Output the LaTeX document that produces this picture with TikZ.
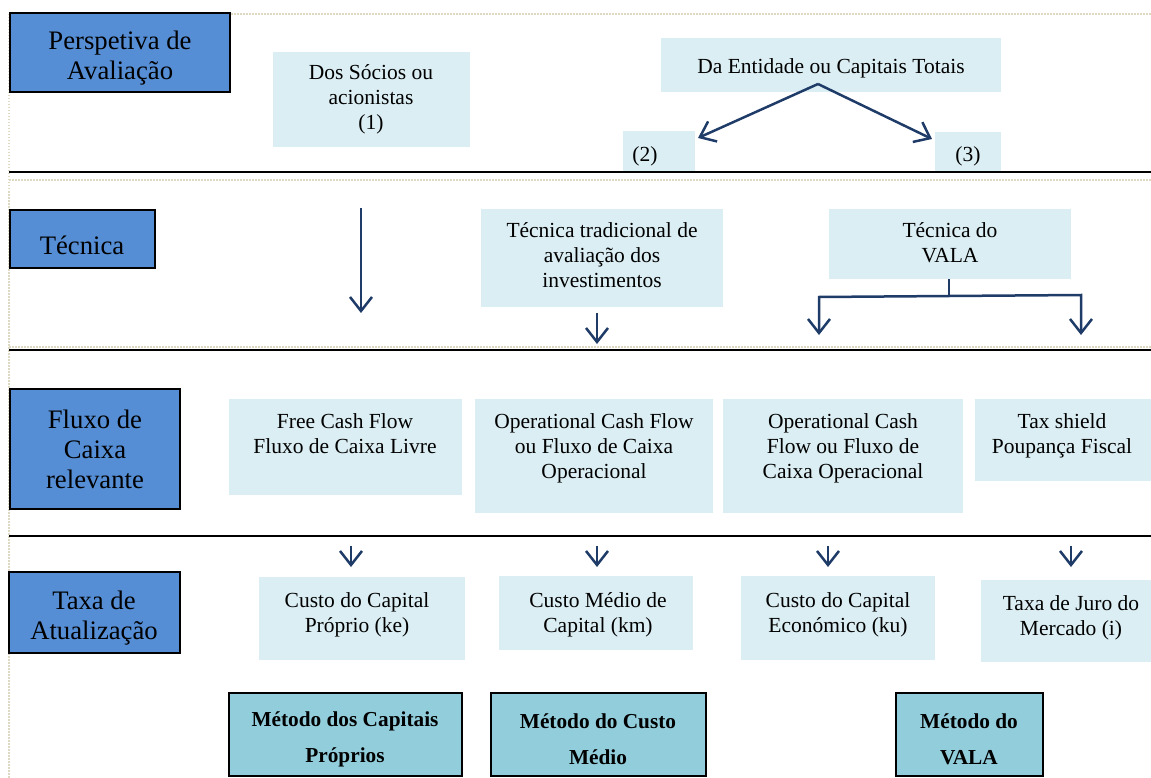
\documentclass[tikz,border=0pt]{standalone}
\usepackage{fontspec}
\setmainfont{Liberation Serif}
\usetikzlibrary{arrows.meta}
\definecolor{hblue}{RGB}{85,142,213}
\definecolor{lblue}{RGB}{219,238,243}
\definecolor{mblue}{RGB}{146,205,220}
\definecolor{navy}{RGB}{31,59,104}
\definecolor{tanline}{RGB}{221,217,195}
\begin{document}
\begin{tikzpicture}[x=1pt,y=-1pt,
  head/.style={draw=black, line width=1.8pt, fill=hblue, inner sep=0pt, outer sep=0pt, anchor=north west},
  htxt/.style={align=center, inner sep=0pt, font=\fontsize{26.7}{30}\selectfont},
  lbox/.style={fill=lblue, inner sep=0pt, outer sep=0pt, anchor=north west},
  txt/.style={anchor=north, align=center, inner sep=0pt, font=\fontsize{21.5}{25}\selectfont},
  mbox/.style={draw=black, line width=1.8pt, fill=mblue, inner sep=0pt, outer sep=0pt, anchor=north west},
  mtxt/.style={align=center, inner sep=0pt, font=\fontsize{21.3}{36}\selectfont\bfseries},
  arr/.style={draw=navy, line width=2.5pt, -{Straight Barb[length=14pt,width=22pt]}},
  stub/.style={draw=navy, line width=2.5pt},
  sepline/.style={draw=black, line width=2pt},
  dots/.style={draw=tanline, line width=1.5pt, dash pattern=on 1.5pt off 1.5pt}]
\useasboundingbox (0,0) rectangle (1151,778);
% dotted frame lines
\coordinate (d1a) at (9,14);   \coordinate (d1b) at (1151,14);
\coordinate (d2a) at (9,180);  \coordinate (d2b) at (1151,180);
\coordinate (d3a) at (9,347);  \coordinate (d3b) at (1151,347);
\coordinate (d4a) at (9,778);
\draw[dots] (d1a) -- (d1b);
\draw[dots] (d2a) -- (d2b);
\draw[dots] (d3a) -- (d3b);
\draw[dots] (d1a) -- (d4a);
% black separator lines
\coordinate (s1a) at (9,172);  \coordinate (s1b) at (1151,172);
\coordinate (s2a) at (9,350);  \coordinate (s2b) at (1151,350);
\coordinate (s3a) at (9,536);  \coordinate (s3b) at (1151,536);
\draw[sepline] (s1a) -- (s1b);
\draw[sepline] (s2a) -- (s2b);
\draw[sepline] (s3a) -- (s3b);
% row headers
\node[head, minimum width=220pt, minimum height=79pt] (h1) at (10,13) {};
\node[head, minimum width=145pt, minimum height=58pt] (h2) at (10,210) {};
\node[head, minimum width=170pt, minimum height=120pt] (h3) at (10,389) {};
\node[head, minimum width=171pt, minimum height=81pt] (h4) at (9,572) {};
\node[htxt] (ht1) at (120,58) {Perspetiva de\\Avaliação};
\node[htxt] (ht2) at (82,245) {Técnica};
\node[htxt] (ht3) at (95,449) {Fluxo de\\Caixa\\relevante};
\node[htxt] (ht4) at (94,618) {Taxa de\\Atualização};
% light boxes
\node[lbox, minimum width=197pt, minimum height=95pt] (b1) at (273,52) {};
\node[lbox, minimum width=340pt, minimum height=54pt] (b2) at (661,38) {};
\node[lbox, minimum width=72pt, minimum height=40pt] (b3) at (623,131) {};
\node[lbox, minimum width=66pt, minimum height=39pt] (b4) at (935,132) {};
\node[lbox, minimum width=242pt, minimum height=98pt] (b5) at (481,209) {};
\node[lbox, minimum width=242pt, minimum height=70pt] (b6) at (829,209) {};
\node[lbox, minimum width=233pt, minimum height=96pt] (b7) at (229,399) {};
\node[lbox, minimum width=238pt, minimum height=114pt] (b8) at (475,399) {};
\node[lbox, minimum width=240pt, minimum height=114pt] (b9) at (723,399) {};
\node[lbox, minimum width=176pt, minimum height=82pt] (b10) at (975,399) {};
\node[lbox, minimum width=206pt, minimum height=83pt] (b11) at (259,577) {};
\node[lbox, minimum width=194pt, minimum height=74pt] (b12) at (499,576) {};
\node[lbox, minimum width=194pt, minimum height=84pt] (b13) at (741,576) {};
\node[lbox, minimum width=170pt, minimum height=82pt] (b14) at (981,580) {};
% texts of light boxes
\node[txt] (t1) at (371,64) {Dos Sócios ou\\acionistas\\(1)};
\node[txt] (t2) at (831,58) {Da Entidade ou Capitais Totais};
\node[txt] (t3) at (645,146) {(2)};
\node[txt] (t4) at (968,146) {(3)};
\node[txt] (t5) at (602,222) {Técnica tradicional de\\avaliação dos\\investimentos};
\node[txt] (t6) at (950,222) {Técnica do\\VALA};
\node[txt] (t7) at (345,413) {Free Cash Flow\\Fluxo de Caixa Livre};
\node[txt] (t8) at (594,413) {Operational Cash Flow\\ou Fluxo de Caixa\\Operacional};
\node[txt] (t9) at (843,413) {Operational Cash\\Flow ou Fluxo de\\Caixa Operacional};
\node[txt] (t10) at (1062,413) {Tax shield\\Poupança Fiscal};
\node[txt] (t11) at (357,592) {Custo do Capital\\Próprio (ke)};
\node[txt] (t12) at (598,592) {Custo Médio de\\Capital (km)};
\node[txt] (t13) at (838,592) {Custo do Capital\\Económico (ku)};
\node[txt] (t14) at (1071,595) {Taxa de Juro do\\Mercado (i)};
% method boxes
\node[mbox, minimum width=233pt, minimum height=83pt] (m1) at (229,693) {};
\node[mbox, minimum width=215pt, minimum height=83pt] (m2) at (491,693) {};
\node[mbox, minimum width=147pt, minimum height=83pt] (m3) at (896,693) {};
\node[mtxt] (mt1) at (345,739) {Método dos Capitais\\Próprios};
\node[mtxt] (mt2) at (598,739) {Método do Custo\\Médio};
\node[mtxt] (mt3) at (969,739) {Método do\\VALA};
% arrows from Da Entidade
\coordinate (e0) at (818,84);
\coordinate (e2) at (698,138);
\coordinate (e3) at (932,139);
\draw[arr] (e0) -- (e2);
\draw[arr] (e0) -- (e3);
% technique row arrows
\coordinate (a1s) at (361,208); \coordinate (a1e) at (361,313);
\draw[arr] (a1s) -- (a1e);
\coordinate (a2s) at (597,313); \coordinate (a2e) at (597,344);
\draw[arr] (a2s) -- (a2e);
\coordinate (v0) at (949,279);
\coordinate (v1) at (949,296);
\coordinate (vL) at (819,297); \coordinate (vLe) at (819,335);
\coordinate (vR) at (1081,295); \coordinate (vRe) at (1081,335);
\draw[stub] (v0) -- (v1);
\draw[arr] (v1) -- (vL) -- (vLe);
\draw[arr] (v1) -- (vR) -- (vRe);
% small arrows into rate row
\coordinate (r1s) at (351,546); \coordinate (r1e) at (351,567);
\coordinate (r2s) at (597,546); \coordinate (r2e) at (597,567);
\coordinate (r3s) at (828,546); \coordinate (r3e) at (828,567);
\coordinate (r4s) at (1071,546); \coordinate (r4e) at (1071,567);
\draw[arr] (r1s) -- (r1e);
\draw[arr] (r2s) -- (r2e);
\draw[arr] (r3s) -- (r3e);
\draw[arr] (r4s) -- (r4e);
\end{tikzpicture}
\end{document}
